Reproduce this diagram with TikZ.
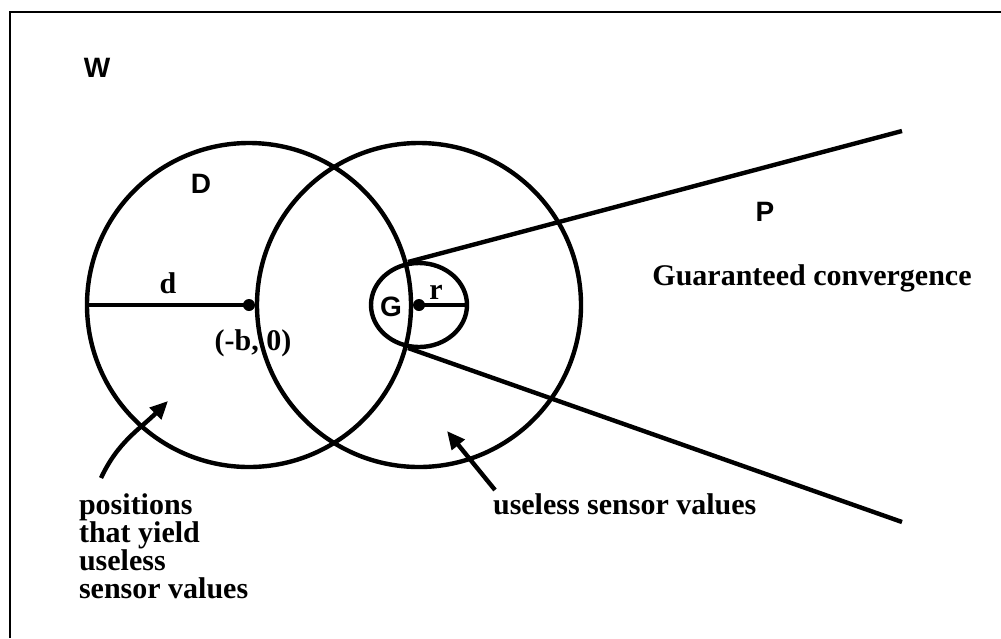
\documentclass[tikz,border=0pt]{standalone}
\usepackage{fontspec}
\setmainfont{Liberation Serif}
\setsansfont{Liberation Sans}
\usetikzlibrary{arrows.meta}
\begin{document}
\begin{tikzpicture}[x=0.5pt, y=-0.5pt,
    thickline/.style={line width=2.2pt},
    sanslabel/.style={font=\sffamily\bfseries\fontsize{14}{16}\selectfont},
    seriflabel/.style={font=\bfseries\fontsize{15}{14}\selectfont},
    pointer/.style={line width=2.2pt, -{Triangle[length=9pt, width=8pt]}}]
  \useasboundingbox (0,0) rectangle (1001,638);

  % Frame
  \draw[line width=1.4pt] (10,638) -- (10,12) -- (1001,12);
  \node[sanslabel] (w) at (97,68) {W};

  % Centres
  \coordinate (dcentre) at (249,305);
  \coordinate (gcentre) at (419,305);

  % Circles
  \draw[thickline] (dcentre) circle[radius=81pt];
  \draw[thickline] (gcentre) circle[radius=81pt];
  \draw[thickline] (gcentre) ellipse[x radius=24pt, y radius=21pt];
  \fill (dcentre) circle[radius=3pt];
  \fill (gcentre) circle[radius=3pt];

  % Radii
  \draw[thickline] (dcentre) -- +(180:81pt);
  \draw[thickline] (gcentre) -- +(0:25pt);

  % Cone P
  \coordinate (ptop) at (408,262);
  \coordinate (pbot) at (408,348);
  \coordinate (ptopend) at (902,131);
  \coordinate (pbotend) at (902,522);
  \draw[thickline] (ptop) -- (ptopend);
  \draw[thickline] (pbot) -- (pbotend);

  % Labels
  \node[sanslabel] (dlab) at (201,184) {D};
  \node[sanslabel] (plab) at (765,212) {P};
  \node[sanslabel] (glab) at (391,307) {G};
  \node[seriflabel] (dist) at (168,283) {d};
  \node[seriflabel] (rad) at (436,292) {r};
  \node[seriflabel] (bpt) at (253,343) {(-b, 0)};
  \node[seriflabel] (conv) at (812,278) {Guaranteed convergence};
  \node[seriflabel, anchor=north west, align=left] (posn) at (72,487)
    {positions\\that yield\\useless\\sensor values};
  \node[seriflabel, anchor=north west] (useless) at (486,487) {useless sensor values};

  % Pointers
  \coordinate (ltail) at (101,478);
  \coordinate (ltip) at (168,401);
  \coordinate (rtail) at (495,490);
  \coordinate (rtip) at (447,431);
  \draw[pointer] (ltail) to[out=65, in=225] (ltip);
  \draw[pointer] (rtail) -- (rtip);
\end{tikzpicture}
\end{document}
